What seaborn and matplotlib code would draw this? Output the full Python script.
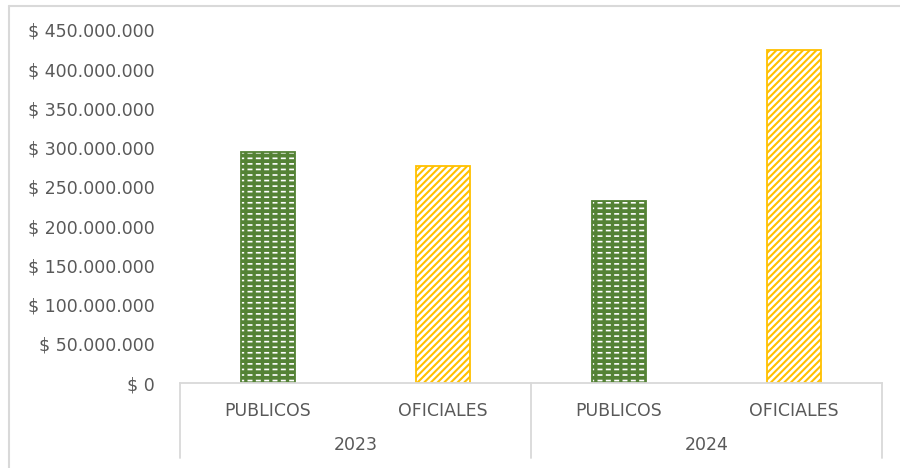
import matplotlib
matplotlib.use("Agg")
import matplotlib.pyplot as plt
import seaborn as sns
import pandas as pd
from matplotlib.patches import Rectangle
from matplotlib.ticker import FuncFormatter, MultipleLocator
from matplotlib.lines import Line2D

years = ["2023", "2023", "2024", "2024"]
tipos = ["PUBLICOS", "OFICIALES", "PUBLICOS", "OFICIALES"]
values = [295_000_000, 277_000_000, 232_000_000, 424_000_000]
year_labels = ["2023", "2024"]

sns.set_theme(style="white")
plt.rcParams["font.family"] = ["DejaVu Sans"]

GREEN = "#548235"
YELLOW = "#FFC000"
TEXT = "#595959"
LINE = "#D9D9D9"
FS = 12.5

df = pd.DataFrame({"year": years, "tipo": tipos, "value": values})
df["key"] = df["year"] + " " + df["tipo"]

fig = plt.figure(figsize=(9, 4.68), dpi=100)
ax = fig.add_axes([0.2, 0.1816, 0.78, 0.7543])

sns.barplot(data=df, x="key", y="value", hue="tipo",
            palette={"PUBLICOS": GREEN, "OFICIALES": YELLOW},
            width=0.31, dodge=False, legend=False, ax=ax, saturation=1)


def overlay(p, hatch, color, lw_hatch):
    with plt.rc_context({"hatch.linewidth": lw_hatch}):
        r = Rectangle((p.get_x(), p.get_y()), p.get_width(), p.get_height(),
                      facecolor="none", edgecolor=color, hatch=hatch,
                      linewidth=0, zorder=p.get_zorder() + 0.05)
    ax.add_patch(r)


for p in list(ax.patches):
    fc = p.get_facecolor()
    is_green = abs(fc[1] - 0x82 / 255) < 0.02
    z = p.get_zorder()
    if is_green:
        p.set_facecolor(GREEN)
        p.set_linewidth(0)
        overlay(p, "---", "white", 1.2)
        overlay(p, "||", GREEN, 2.4)
        edge = GREEN
    else:
        p.set_facecolor("white")
        p.set_linewidth(0)
        overlay(p, "/////", YELLOW, 1.5)
        edge = YELLOW
    ax.add_patch(Rectangle((p.get_x(), p.get_y()), p.get_width(), p.get_height(),
                           facecolor="none", edgecolor=edge, linewidth=1.3,
                           zorder=z + 0.1))

ax.set_ylim(0, 450_000_000)
ax.set_xlim(-0.5, len(values) - 0.5)
ax.yaxis.set_major_locator(MultipleLocator(50_000_000))
ax.yaxis.set_major_formatter(FuncFormatter(
    lambda v, _: "$ " + f"{int(v):,}".replace(",", ".")))
ax.tick_params(axis="y", length=0, pad=18, labelsize=FS, labelcolor=TEXT)
ax.tick_params(axis="x", length=0, pad=14, labelsize=FS, labelcolor=TEXT)
ax.set_xticks(range(len(tipos)))
ax.set_xticklabels(tipos)
ax.set_xlabel("")
ax.set_ylabel("")
for s in ["left", "right", "top"]:
    ax.spines[s].set_visible(False)
ax.spines["bottom"].set_color(LINE)
ax.spines["bottom"].set_linewidth(1.3)

trans = ax.get_xaxis_transform()
depth = -0.213
for xb in [-0.5, 1.5, 3.5]:
    ax.add_line(Line2D([xb, xb], [0, depth], transform=trans, color=LINE,
                       linewidth=1.3, clip_on=False))
for i, yl in enumerate(year_labels):
    ax.text(0.5 + 2 * i, -0.177, yl, transform=trans, ha="center", va="center",
            fontsize=FS, color=TEXT)

# outer chart frame (top + left visible)
fig.add_artist(Line2D([0.01, 1.0], [0.987, 0.987], transform=fig.transFigure,
                      color=LINE, linewidth=1.5))
fig.add_artist(Line2D([0.01, 0.01], [0.0, 0.987], transform=fig.transFigure,
                      color=LINE, linewidth=1.5))

fig.savefig("out.png", dpi=100)
